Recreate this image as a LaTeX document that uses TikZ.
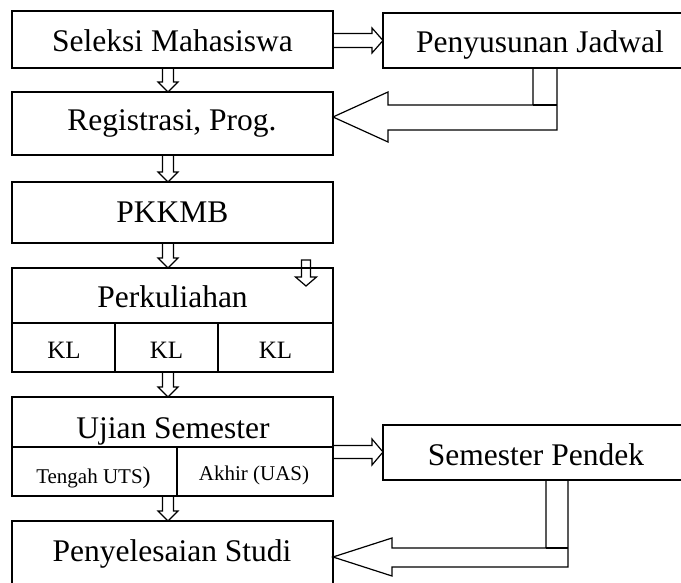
\documentclass[tikz,border=0pt]{standalone}
\usepackage{fontspec}
\setmainfont{Liberation Serif}
\usetikzlibrary{calc}
\tikzset{
  box/.style={draw, line width=1.5pt, rectangle, inner sep=0pt, outer sep=0pt},
  txt/.style={anchor=base, inner sep=0pt, outer sep=0pt, font=\fontsize{31.5}{36}\selectfont},
  kltxt/.style={txt, font=\fontsize{25}{30}\selectfont},
  smtxt/.style={txt, font=\fontsize{21}{25}\selectfont},
  blk/.style={draw, line width=1.2pt, line join=miter},
}
% box from (x1,y1) to (x2,y2) in pixel units, y measured downwards
\newcommand\boxat[5]{\node[box, minimum width={#4-#2}, minimum height={#5-#3}] (#1) at ({(#2+#4)/2},{-(#3+#5)/2}) {};}
% hollow block arrow pointing down from node #1 to node #2 at x=#3
\newcommand\dnblk[3]{\draw[blk] let \p1=(#1.south), \p2=(#2.north) in
  (#3-5.5,\y1) -- (#3-5.5,\y2+10pt) -- (#3-10,\y2+10pt) -- (#3,\y2) -- (#3+10,\y2+10pt) -- (#3+5.5,\y2+10pt) -- (#3+5.5,\y1);}
% hollow block arrow pointing right from node #1 to node #2 at y=#3, shaft half #4, head half #5
\newcommand\rtblk[5]{\draw[blk] let \p1=(#1.east), \p2=(#2.west) in
  (\x1,-#3+#4) -- (\x2-11pt,-#3+#4) -- (\x2-11pt,-#3+#5) -- (\x2,-#3) -- (\x2-11pt,-#3-#5) -- (\x2-11pt,-#3-#4) -- (\x1,-#3-#4);}
\begin{document}
\begin{tikzpicture}[x=1pt,y=1pt]
\useasboundingbox (0,0) rectangle (681,-583);
\clip (0,0) rectangle (681,-583);
% boxes
\boxat{sel}{12}{11}{333}{68}
\boxat{pen}{383}{13}{697}{68}
\boxat{reg}{12}{92}{333}{155}
\boxat{pkk}{12}{182}{333}{243}
\boxat{per}{12}{268}{333}{323}
\boxat{klA}{12}{323}{115}{372}
\boxat{klB}{115}{323}{218}{372}
\boxat{klC}{218}{323}{333}{372}
\boxat{uji}{12}{397}{333}{447}
\boxat{uts}{12}{447}{177}{496}
\boxat{uas}{177}{447}{333}{496}
\boxat{sp}{383}{425}{689}{480}
\boxat{pys}{12}{521}{333}{620}
% texts
\node[txt] (selT) at (172.5,-52) {Seleksi Mahasiswa};
\node[txt] (penT) at (540,-53) {Penyusunan Jadwal};
\node[txt] (regT) at (172,-131) {Registrasi, Prog.};
\node[txt] (pkkT) at (172.5,-223) {PKKMB};
\node[txt] (perT) at (172.5,-308) {Perkuliahan};
\node[kltxt] (klAT) at (64,-358) {KL};
\node[kltxt] (klBT) at (166.5,-358) {KL};
\node[kltxt] (klCT) at (275.5,-358) {KL};
\node[txt] (ujiT) at (173,-438) {Ujian Semester};
\node[smtxt] (utsT) at (93.5,-483) {Tengah UTS{\fontsize{24}{28}\selectfont)}};
\node[smtxt] (uasT) at (254,-480) {Akhir (UAS)};
\node[txt] (spT) at (536,-465) {Semester Pendek};
\node[txt] (pysT) at (172,-561) {Penyelesaian Studi};
% down arrows
\dnblk{sel}{reg}{168}
\dnblk{reg}{pkk}{168}
\dnblk{pkk}{per}{168}
\dnblk{klB}{uji}{168}
\dnblk{uts}{pys}{168}
% small arrow inside Perkuliahan
\coordinate (smA) at (306,-260);
\coordinate (smB) at (306,-286);
\draw[blk] let \p1=(smA), \p2=(smB) in
  (\x1-4.5pt,\y1) -- (\x1-4.5pt,\y2+9pt) -- (\x1-10.5pt,\y2+9pt) -- (\x2,\y2) -- (\x1+10.5pt,\y2+9pt) -- (\x1+4.5pt,\y2+9pt) -- (\x1+4.5pt,\y1) -- cycle;
% right arrows
\rtblk{sel}{pen}{40.5}{7}{12.5}
\rtblk{uas}{sp}{452}{6.5}{13}
% L-shaped arrows back to the left
\draw[blk] let \p1=(pen.south), \p2=(reg.east) in
  (533,\y1) -- (533,-105) -- (388,-105) -- (388,-92) -- (\x2,-117) -- (388,-142) -- (388,-130) -- (557,-130) -- (557,\y1);
\draw[blk] (533,-105) -- (557,-105);
\draw[blk] let \p1=(sp.south), \p2=(pys.east) in
  (546,\y1) -- (546,-548) -- (392,-548) -- (392,-538) -- (\x2,-557) -- (392,-576) -- (392,-567) -- (568,-567) -- (568,\y1);
\draw[blk] (546,-548) -- (568,-548);
\end{tikzpicture}
\end{document}
